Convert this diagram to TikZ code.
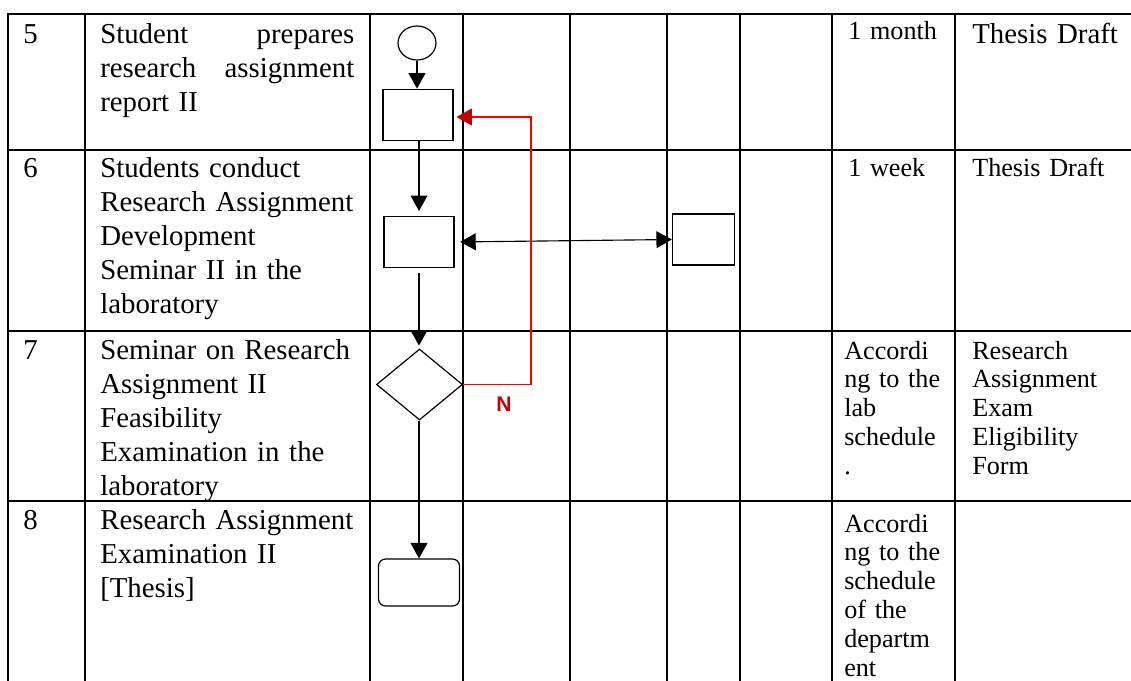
\documentclass[tikz,border=0pt]{standalone}
\usepackage{fontspec}
\setmainfont{Liberation Serif}
\newfontfamily\labelsans{Liberation Sans}
\usepackage{tikz}
\usetikzlibrary{arrows.meta,shapes.geometric,positioning}
\definecolor{nred}{HTML}{C00000}
\newcommand\cellfont{\fontsize{20.5}{24.2}\selectfont}
\newcommand\notefont{\fontsize{18.6}{20.5}\selectfont}
\tikzset{
  tabline/.style={line width=1.1pt, line cap=rect},
  txt/.style={anchor=base west, inner sep=0pt, align=left, font=\cellfont},
  desc/.style={txt, text width=6.35cm},
  note/.style={txt, font=\notefont, text width=2.6cm},
  act/.style={draw, line width=0.85pt, minimum width=1.75cm, minimum height=1.275cm, inner sep=0pt},
  flow/.style={->, line width=0.8pt},
}

\begin{document}
\begin{tikzpicture}[x=0.025cm, y=-0.025cm, >={Triangle[length=11pt,width=12pt]}]
\useasboundingbox (0,0) rectangle (1131,680);

%% Table grid
\foreach \y in {14,150,331,501}{
  \draw[tabline] (8,\y) -- (1131,\y);
}
\foreach \x in {8,85,370,463,570,667,740,832,955}{
  \draw[tabline] (\x,14) -- (\x,680);
}

%% Step numbers
\node[txt] (num5) at (23,43)  {5};
\node[txt] (num6) at (23,177) {6};
\node[txt] (num7) at (23,359) {7};
\node[txt] (num8) at (23,529) {8};

%% Activities
\node[desc] (desc5) at (100,43)
  {Student\hfill prepares\\ research\hfill assignment\\ report II};
\node[desc] (desc6) at (100,177)
  {Students conduct\\ Research Assignment\\ Development\\ Seminar II in the\\ laboratory};
\node[desc] (desc7) at (100,359)
  {Seminar on Research\\ Assignment II\\ Feasibility\\ Examination in the\\ laboratory};
\node[desc] (desc8) at (100,529)
  {Research Assignment\\ Examination II\\ {[Thesis]}};

%% Time and output
\node[note] (time5) at (848,39)  {1 month};
\node[txt, text width=4cm] (out5) at (972,43) {Thesis Draft};
\node[note] (time6) at (848,176) {1 week};
\node[note, text width=4cm] (out6) at (972,176) {Thesis Draft};
\node[note] (time7) at (844,359) {Accordi\\ ng to the\\ lab\\ schedule\\ .};
\node[note, text width=4cm] (out7) at (972,359) {Research\\ Assignment\\ Exam\\ Eligibility\\ Form};
\node[note] (time8) at (844,532) {Accordi\\ ng to the\\ schedule\\ of the\\ departm\\ ent};

%% Flow symbols
\node[draw, ellipse, line width=0.85pt, minimum width=0.95cm, minimum height=0.85cm, inner sep=0pt]
  (start) at (417,43) {};
\node[act] (act1) at (418,114.7) {};
\node[act] (act2) at (419,242) {};
\node[act, minimum width=1.55cm] (act3) at (703.5,239.5) {};
\node[draw, diamond, line width=0.85pt, minimum width=2.15cm, minimum height=1.775cm, inner sep=0pt]
  (dec) at (419.5,384.5) {};
\node[act, rounded corners=5pt, minimum width=2.025cm, minimum height=1.175cm]
  (endn) at (419,582.5) {};

%% Connectors
\draw[flow] (start.south) -- (start.south |- act1.north);
\draw[flow, shorten >=3.5pt] (act1.south -| act2) -- (act2.north);
\draw[flow, shorten <=3.5pt, shorten >=2pt] (act2.south) -- (act2.south |- dec.north);
\draw[flow] (dec.south -| endn) -- (endn.north);
\draw[<->, line width=0.8pt, shorten <=4pt] (act2.east) -- (act3.west);

%% Rejection loop
\coordinate (ntop) at (531,117);
\draw[red, line width=0.8pt, -{Triangle[length=11pt,width=12pt,color=nred,fill=nred]}, shorten >=2pt]
  (dec.east) -| (ntop) -- (ntop -| act1.east);
\node[text=nred, font=\labelsans\bfseries\fontsize{15}{15}\selectfont] (nlabel) at (504,404) {N};

\end{tikzpicture}
\end{document}
